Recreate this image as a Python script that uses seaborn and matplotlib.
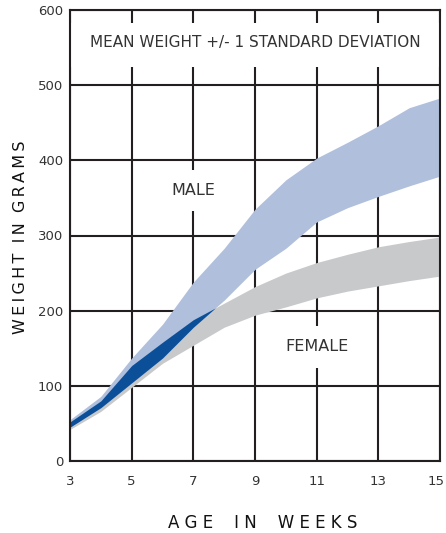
import numpy as np
import matplotlib
matplotlib.use("Agg")
import matplotlib.pyplot as plt
import matplotlib.transforms as mtransforms
import seaborn as sns

# Datos (semanas y bandas media +/- 1 DE)
weeks = np.array([3, 4, 5, 6, 7, 8, 9, 10, 11, 12, 13, 14, 15])
male_lo = np.array([45, 71, 104, 137, 178, 214, 255, 283, 318, 337, 352, 366, 379])
male_hi = np.array([55, 86, 137, 182, 238, 283, 335, 374, 403, 424, 446, 470, 483])
female_lo = np.array([42, 66, 98, 130, 154, 178, 194, 205, 217, 226, 233, 240, 246])
female_hi = np.array([52, 80, 127, 158, 188, 210, 232, 250, 264, 275, 285, 292, 298])

x_ticks = [3, 5, 7, 9, 11, 13, 15]
y_ticks = [0, 100, 200, 300, 400, 500, 600]

sns.set_theme(style="white")
plt.rcParams['font.family'] = ['DejaVu Sans']

ink = '#231f20'
txt = '#333333'

fig = plt.figure(figsize=(4.46, 5.33), dpi=100)
ax = fig.add_axes([70 / 446, 1 - 461 / 533, 370 / 446, 451 / 533])

# Bandas
ax.fill_between(weeks, female_lo, female_hi, color='#c8c9cb', lw=0, zorder=1)
ax.fill_between(weeks, male_lo, male_hi, color='#b0bfdc', lw=0, zorder=1.1)
ax.fill_between(weeks, male_lo, female_hi, where=female_hi > male_lo,
                interpolate=True, color='#0b4f98', lw=0, zorder=1.2)

ax.set_xlim(3, 15)
ax.set_ylim(0, 600)
ax.set_xticks(x_ticks)
ax.set_yticks(y_ticks)
ax.grid(True, color=ink, lw=1.5)
ax.set_axisbelow(True)
for s in ax.spines.values():
    s.set_visible(True)
    s.set_color(ink)
    s.set_linewidth(1.5)
    s.set_zorder(5)
ax.tick_params(axis='both', length=0, labelsize=9.5, labelcolor=txt)
ax.tick_params(axis='x', pad=10)
ax.tick_params(axis='y', pad=5)

# la última etiqueta del eje x queda pegada al borde: se corre un poco
fig.canvas.draw()
last = ax.get_xticklabels()[-1]
last.set_transform(last.get_transform() +
                   mtransforms.ScaledTranslation(-4 / 100, 0, fig.dpi_scale_trans))

# Recuadro blanco del título
ax.axhspan(524, 583, color='white', lw=0, zorder=0.8)
ax.text(9, 557, 'MEAN WEIGHT +/- 1 STANDARD DEVIATION', ha='center', va='center',
        fontsize=11, color=txt, zorder=3)

box = dict(facecolor='white', edgecolor='none', pad=9.5)
ax.text(7, 360, 'MALE', ha='center', va='center', fontsize=11.5, color=txt,
        bbox=box, zorder=0.9)
ax.text(11, 152, 'FEMALE', ha='center', va='center', fontsize=11.5, color=txt,
        bbox=box, zorder=0.9)

sp = '\u2009'
ax.set_xlabel('A G E    I N    W E E K S', fontsize=12, color='#111111', va='center')
ax.xaxis.set_label_coords((263 - 70) / 370, -(523 - 461) / 451)
ylab = '  '.join(sp.join(w) for w in ['WEIGHT', 'IN', 'GRAMS'])
ax.set_ylabel(ylab, fontsize=11.5, color='#111111', va='center', ha='center')
ax.yaxis.set_label_coords((21 - 70) / 370, (461 - 237) / 451)

fig.savefig('out.png', dpi=100)
